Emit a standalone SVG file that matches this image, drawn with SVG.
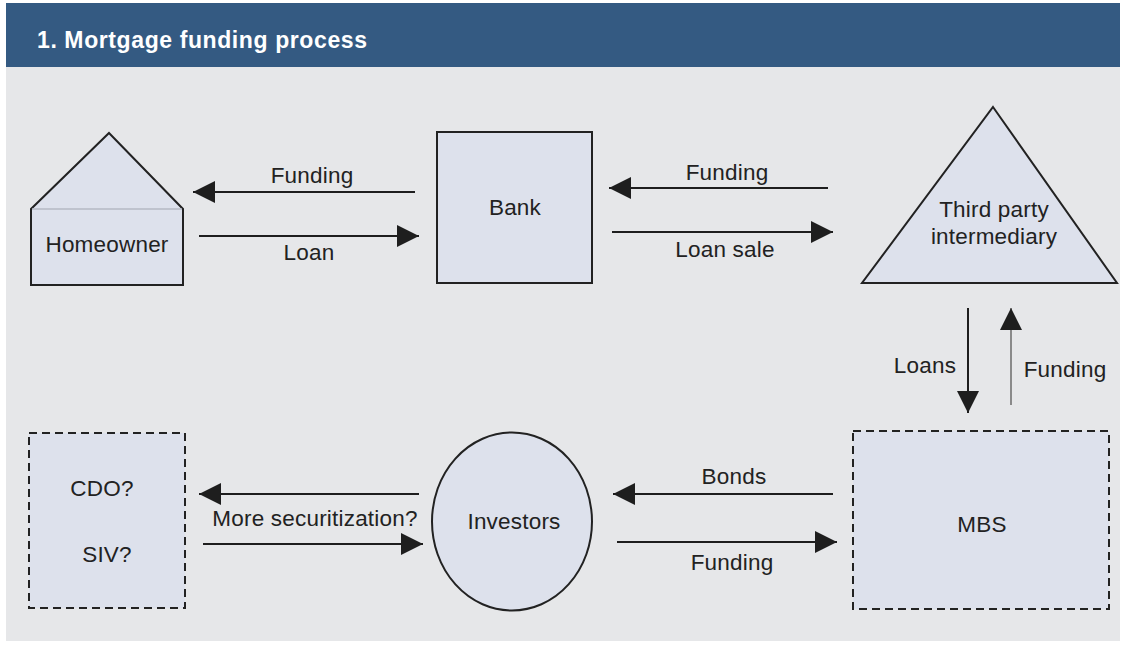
<svg xmlns="http://www.w3.org/2000/svg" width="1124" height="646" viewBox="0 0 1124 646">
  <defs>
    <style>
      .panel { fill: #e6e7e9; }
      .bar { fill: #345a82; }
      .title { font-family: "Liberation Sans", Arial, sans-serif; font-size: 23px; font-weight: bold; fill: #ffffff; letter-spacing: 0.6px; }
      .node { fill: #dde1ec; stroke: #222222; stroke-width: 2; }
      .dashed { stroke-dasharray: 8 5; }
      .lbl { font-family: "Liberation Sans", Arial, sans-serif; font-size: 22.5px; fill: #222222; text-anchor: middle; letter-spacing: 0.2px; }
      .flow { stroke: #1e1e1e; stroke-width: 2; fill: none; marker-end: url(#head); }
      .flow-light { stroke: #8a8a8a; }
    </style>
    <marker id="head" markerUnits="userSpaceOnUse" markerWidth="22" markerHeight="22" refX="22" refY="11" orient="auto" viewBox="0 0 22 22">
      <path d="M0,0 L22,11 L0,22 Z" fill="#1e1e1e"/>
    </marker>
  </defs>

  <rect x="0" y="0" width="1124" height="646" fill="#ffffff"/>
  <rect class="panel" x="6" y="66" width="1114" height="575"/>
  <rect class="bar" x="6" y="3" width="1114" height="64"/>
  <text class="title" x="37" y="48">1. Mortgage funding process</text>

  <!-- nodes -->
  <g id="homeowner">
    <polygon class="node" points="109,133 183,209 183,285 31,285 31,209"/>
    <line x1="32" y1="209" x2="182" y2="209" stroke="#b4b8c4" stroke-width="1.5"/>
    <text class="lbl" x="107" y="252">Homeowner</text>
  </g>

  <g id="bank">
    <rect class="node" x="437" y="132" width="155" height="151"/>
    <text class="lbl" x="515" y="215">Bank</text>
  </g>

  <g id="intermediary">
    <polygon class="node" points="993,107 1117,283 862,283"/>
    <text class="lbl" x="994" y="217">Third party</text>
    <text class="lbl" x="994" y="244">intermediary</text>
  </g>

  <g id="mbs">
    <rect class="node dashed" x="853" y="431" width="256" height="178"/>
    <text class="lbl" x="982" y="532">MBS</text>
  </g>

  <g id="investors">
    <ellipse class="node" cx="512" cy="521.5" rx="80" ry="89"/>
    <text class="lbl" x="514" y="529">Investors</text>
  </g>

  <g id="cdo-siv">
    <rect class="node dashed" x="29" y="433" width="156" height="175"/>
    <text class="lbl" x="102" y="496">CDO?</text>
    <text class="lbl" x="107" y="562">SIV?</text>
  </g>

  <!-- connectors -->
  <g id="connectors">
    <line class="flow" x1="415" y1="192" x2="193" y2="192"/>
    <line class="flow" x1="199" y1="236" x2="419" y2="236"/>
    <text class="lbl" x="312" y="183">Funding</text>
    <text class="lbl" x="309" y="260">Loan</text>

    <line class="flow" x1="828" y1="188" x2="609" y2="188"/>
    <line class="flow" x1="612" y1="232" x2="833" y2="232"/>
    <text class="lbl" x="727" y="180">Funding</text>
    <text class="lbl" x="725" y="257">Loan sale</text>

    <line class="flow" x1="968" y1="308" x2="968" y2="413"/>
    <line class="flow flow-light" x1="1011" y1="405" x2="1011" y2="308"/>
    <text class="lbl" x="925" y="373">Loans</text>
    <text class="lbl" x="1065" y="377">Funding</text>

    <line class="flow" x1="833" y1="494" x2="613" y2="494"/>
    <line class="flow" x1="617" y1="542" x2="837" y2="542"/>
    <text class="lbl" x="734" y="484">Bonds</text>
    <text class="lbl" x="732" y="570">Funding</text>

    <line class="flow" x1="419" y1="494" x2="199" y2="494"/>
    <line class="flow" x1="203" y1="544" x2="423" y2="544"/>
    <text class="lbl" x="315" y="526">More securitization?</text>
  </g>
</svg>
